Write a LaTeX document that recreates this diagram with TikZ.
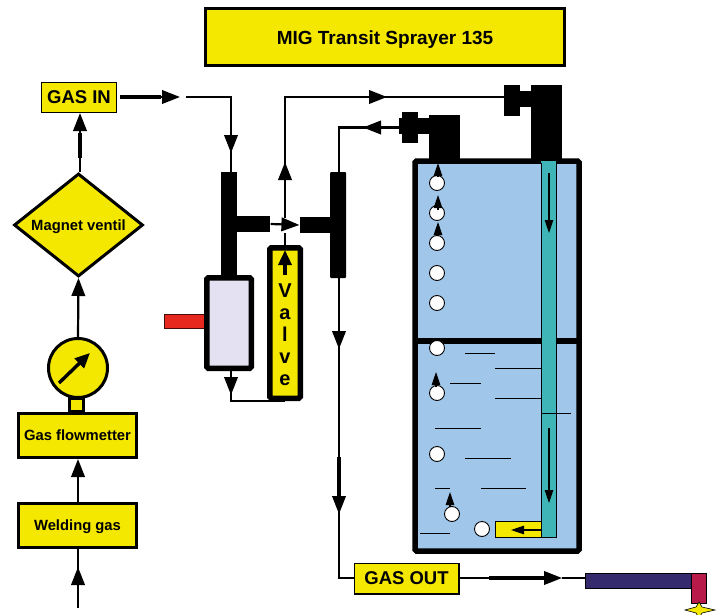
\documentclass[tikz,border=0pt]{standalone}
\usepackage{fontspec}
\setmainfont{Liberation Sans}
\usetikzlibrary{shapes.geometric, arrows.meta, positioning, decorations.markings}

\definecolor{boxyellow}{HTML}{F5E800}
\definecolor{tankblue}{HTML}{A0C6EA}
\definecolor{tubeteal}{HTML}{40B5B8}
\definecolor{filterlav}{HTML}{E4E2F2}
\definecolor{handlered}{HTML}{E7281F}
\definecolor{torchnavy}{HTML}{352A6E}
\definecolor{torchred}{HTML}{B81A4A}

\tikzset{
    bighead/.tip={Triangle[length=18pt,width=13.5pt]},
    flow/.style={line width=2.2pt},
    stem/.style={line width=3.4pt},
    tipat/.style={postaction={decorate,decoration={markings,mark=at position #1 with {\arrow{bighead}}}}},
    yellowbox/.style={draw, fill=boxyellow, line width=3pt, inner sep=0pt, text depth=0pt, font=\bfseries\fontsize{14.8}{17}\selectfont},
    labelbox/.style={draw, fill=boxyellow, line width=1.3pt, inner sep=0pt, font=\bfseries\fontsize{18.5}{20}\selectfont},
    blackpart/.style={fill=black, inner sep=0pt},
    thickbox/.style={draw, line width=5.5pt, rounded corners=1.5pt, inner sep=0pt},
    bubble/.style={circle, draw, fill=white, line width=0.9pt, minimum size=15pt, inner sep=0pt},
    thinarrow/.style={line width=1.1pt, -{Triangle[length=13pt,width=8.5pt]}}
}

\begin{document}
\begin{tikzpicture}[x=1pt, y=-1pt]
    \useasboundingbox (0,0) rectangle (722,615);

    % left column
    \node[yellowbox, minimum width=359pt, minimum height=57pt, font=\bfseries\fontsize{19}{21}\selectfont] (title) at (385,37.5) {MIG Transit Sprayer 135};
    \node[labelbox, minimum width=74.7pt, minimum height=29.7pt] (gasin) at (79,97.5) {GAS IN};
    \node[diamond, aspect=1.26, yellowbox, minimum width=129pt, minimum height=103pt] (magnet) at (78.5,225) {Magnet ventil};
    \node[yellowbox, minimum width=118pt, minimum height=44pt] (flowmeter) at (77.5,435.5) {Gas flowmetter};
    \node[yellowbox, minimum width=118pt, minimum height=44pt] (welding) at (77.5,525.5) {Welding gas};
    \node[yellowbox, minimum width=14pt, minimum height=13pt] (neck) at (76.5,404.5) {};
    \node[circle, yellowbox, minimum size=59pt] (gauge) at (78,368) {};

    \coordinate (feed) at (78,608);
    \coordinate (needlea) at (59,383);
    \coordinate (needleb) at (90,353);
    \coordinate (stemin) at (80,158);
    \coordinate (stemtop) at (80,133);
    \coordinate (gasintip) at (80,113);

    \draw[flow, tipat=41pt] (feed) -- (welding.south -| feed);
    \draw[flow, -bighead] (welding.north -| feed) -- (flowmeter.south -| feed);
    \draw[flow, -bighead] (gauge.north) -- (magnet.south);
    \draw[flow] (magnet.north -| stemin) -- (stemin);
    \draw[stem] (stemin) -- (stemtop);
    \draw[flow, -bighead] (stemtop) -- (gasintip);
    \draw[stem, -{Triangle[length=15pt,width=13pt]}] (needlea) -- (needleb);

    % gas in to the T piece
    \coordinate (gasoutl) at (120,97);
    \coordinate (gasbase) at (161,97);
    \coordinate (gastip) at (180,97);
    \coordinate (gasnext) at (186,97);
    \coordinate (tleftin) at (231,172);
    \draw[stem] (gasoutl) -- (gasbase);
    \draw[flow, -bighead] (gasbase) -- (gastip);
    \draw[flow, tipat=101pt] (gasnext) -| (tleftin);

    % T pieces
    \node[blackpart, minimum width=16pt, minimum height=104pt] (tleft) at (229,224) {};
    \node[blackpart, minimum width=33pt, minimum height=16pt, right=0pt of tleft] (tleftarm) {};
    \node[blackpart, minimum width=16pt, minimum height=106pt, rounded corners=1pt] (tright) at (338,225) {};
    \node[blackpart, minimum width=30pt, minimum height=16pt, left=0pt of tright] (trightarm) {};
    \draw[flow, -bighead] (tleftarm.east) -- (trightarm.west);

    % filter and valve
    \node[fill=handlered, draw=black!70!handlered, line width=0.8pt, minimum width=42pt, minimum height=14pt, inner sep=0pt] (handle) at (185.5,321.5) {};
    \node[thickbox, fill=filterlav, minimum width=44.5pt, minimum height=90.5pt] (filter) at (229,323) {};
    \node[thickbox, fill=boxyellow, minimum width=30.5pt, minimum height=150.5pt] (valve) at (285,323) {};
    \node[font=\bfseries\fontsize{20}{22}\selectfont, align=center, inner sep=0pt] (valvetext) at (285,335) {V\\a\\l\\v\\e};

    \coordinate (filterout) at (231,371);
    \coordinate (valvein) at (285,401);
    \coordinate (valvetail) at (285,275);
    \coordinate (valvehead) at (285,250);
    \coordinate (crossa) at (285,233);
    \coordinate (crossb) at (285,218);
    \coordinate (topline) at (285,97);
    \coordinate (inletend) at (505,97);
    \coordinate (outletend) at (400,127.5);
    \coordinate (trightout) at (339,172);
    \coordinate (trightdown) at (339,278);
    \coordinate (gasoutbend) at (339,578);
    \coordinate (stemdowna) at (339,457);
    \coordinate (stemdownb) at (339,498);
    \coordinate (stemtopa) at (330,97);
    \coordinate (stemtopb) at (370,97);

    \draw[flow, tipat=24pt] (filterout) |- (valvein);
    \draw[stem, -{Triangle[length=15pt,width=13pt]}] (valvetail) -- (valvehead);
    \draw[flow] (valve.north) -- (crossa);
    \draw[flow, tipat=56pt] (crossb) -- (topline) -- (inletend);
    \draw[line width=2.8pt] (stemtopa) -- (stemtopb);
    \draw[flow, -bighead] (stemtopb) -- (387,97);
    \draw[flow, tipat=37pt] (outletend) -| (trightout);
    \draw[stem] (stemdowna) -- (stemdownb);
    \draw[flow, tipat=71pt, tipat=236pt] (trightdown) |- (gasoutbend) -- (354,578);

    % tank
    \draw[line width=5.5pt, fill=tankblue, rounded corners=1.5pt] (415,161) rectangle (579,551);
    \draw[line width=5.5pt] (415,341) -- (579,341);
    \fill[tubeteal] (541,161) rectangle (556,537);
    \draw[line width=1pt] (541,163) -- (541,537) -- (556,537) -- (556,163);
    \draw[line width=1pt, fill=boxyellow] (495,521) rectangle (541,537);
    \draw[thinarrow] (549,173) -- (549,233);
    \draw[thinarrow] (549,428) -- (549,503);
    \draw[thinarrow] (541,530) -- (511,530);

    \foreach \xa/\xb/\yy in {465/495/353, 495/541/368, 450/481/383, 495/541/398, 541/571/413, 435/481/428, 465/511/458, 435/450/488, 481/526/488, 420/450/533} {
        \draw[line width=0.9pt] (\xa,\yy) -- (\xb,\yy);
    }

    \foreach \x/\y in {437/183, 437/213, 437/243, 437/273, 437/303, 437/348, 437/393, 437/454, 452/514, 482/529} {
        \node[bubble] at (\x,\y) {};
    }
    \foreach \x/\ya/\yb in {438/176/163, 438/210/195, 438/236/222, 436/387/372, 450/507/492} {
        \draw[thinarrow] (\x,\ya) -- (\x,\yb);
    }

    % fittings on the tank
    \fill (402,112) rectangle (418,143);
    \fill (399,118) rectangle (429,134);
    \fill (429,115) rectangle (460,159);
    \fill (504,85) rectangle (520,116);
    \fill (520,91) rectangle (531,107);
    \fill (531,85) rectangle (562,159);

    % gas out and torch
    \node[labelbox, minimum width=104.7pt, minimum height=30.7pt] (gasout) at (406.5,578.5) {GAS OUT};
    \node[fill=torchnavy, draw=black, line width=0.6pt, minimum width=106pt, minimum height=15pt, inner sep=0pt] (torch) at (638.5,580.5) {};
    \node[fill=torchred, draw=black, line width=0.6pt, minimum width=15pt, minimum height=30pt, inner sep=0pt] (nozzle) at (698.5,588) {};
    \coordinate (outa) at (489,578);
    \coordinate (outb) at (544,578);
    \draw[flow] (gasout.east |- outa) -- (outa);
    \draw[stem] (outa) -- (outb);
    \draw[flow, -bighead] (outb) -- (562,578);
    \draw[flow] (562,578) -- (torch.west |- outa);
    \draw[fill=boxyellow, line width=0.6pt] (699,602) -- (702,607) -- (715,610) -- (702,613) -- (699,618) -- (696,613) -- (685,610) -- (696,607) -- cycle;
\end{tikzpicture}
\end{document}
